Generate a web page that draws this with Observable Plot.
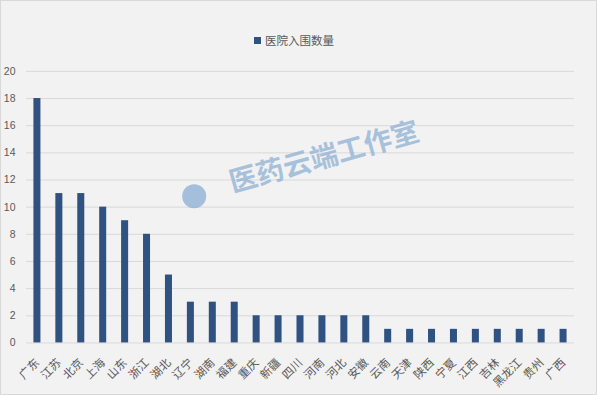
<!DOCTYPE html>
<html>
<head>
<meta charset="utf-8">
<script src="https://cdn.jsdelivr.net/npm/d3@7"></script>
<script src="https://cdn.jsdelivr.net/npm/@observablehq/plot@0.6"></script>
<style>
  html, body { margin: 0; padding: 0; background: #ffffff; }
  #wrap { position: relative; width: 597px; height: 395px; background: #f2f2f2; box-sizing: border-box; border: 1px solid #d9d9d9; overflow: hidden; }
  #legend { position: absolute; left: 253px; top: 31px; font-family: "Noto Sans CJK SC", sans-serif; font-size: 11.5px; color: #595959; display: flex; align-items: center; gap: 4px; }
  #legend .sw { width: 7px; height: 7px; background: #2f5280; display: inline-block; }
  #chart { position: absolute; left: -1px; top: -1px; }
</style>
</head>
<body>
<div id="wrap">
  <div id="chart"></div>
  <div id="legend"><span class="sw"></span><span>医院入围数量</span></div>
</div>
<script>
const categories = ["广东","江苏","北京","上海","山东","浙江","湖北","辽宁","湖南","福建","重庆","新疆","四川","河南","河北","安徽","云南","天津","陕西","宁夏","江西","吉林","黑龙江","贵州","广西"];
const values = [18,11,11,10,9,8,5,3,3,3,2,2,2,2,2,2,1,1,1,1,1,1,1,1,1];
const yTicks = [0,2,4,6,8,10,12,14,16,18,20];
const seriesName = "医院入围数量";
const watermark = "医药云端工作室";

const data = categories.map((c, i) => ({category: c, value: values[i], series: seriesName}));

const chart = Plot.plot({
  width: 597,
  height: 395,
  marginTop: 71,
  marginBottom: 52,
  marginLeft: 26,
  marginRight: 22,
  style: { background: "transparent", fontFamily: "'Noto Sans CJK SC', sans-serif", overflow: "visible" },
  x: { domain: categories, paddingInner: 0.68, paddingOuter: 0.34, round: false, label: null },
  y: { domain: [0, 20], label: null },
  marks: [
    Plot.ruleY(yTicks, { stroke: "#d9d9d9", strokeWidth: 1 }),
    Plot.axisY(yTicks, { tickSize: 0, tickPadding: 11, fontSize: 10.5, fill: "#595959", fontFamily: "'Liberation Sans', sans-serif", label: null }),
    Plot.axisX({ tickSize: 0, tickRotate: -45, tickPadding: 18, dx: 0, fontSize: 11.5, fill: "#595959", label: null }),
    Plot.barY(data, { x: "category", y: "value", fill: "#2f5280" }),
    Plot.dot([watermark], { frameAnchor: "top-left", dx: 168, dy: 125, r: 12, fill: "#8fb1d4", fillOpacity: 0.8 }),
    Plot.text([watermark], { text: d => d, frameAnchor: "top-left", dx: 201, dy: 102, rotate: -15.5, textAnchor: "start", fontSize: 28, fontWeight: "bold", fill: "#8fb1d4", fillOpacity: 0.75 })
  ]
});
document.getElementById("chart").appendChild(chart);
</script>
</body>
</html>
